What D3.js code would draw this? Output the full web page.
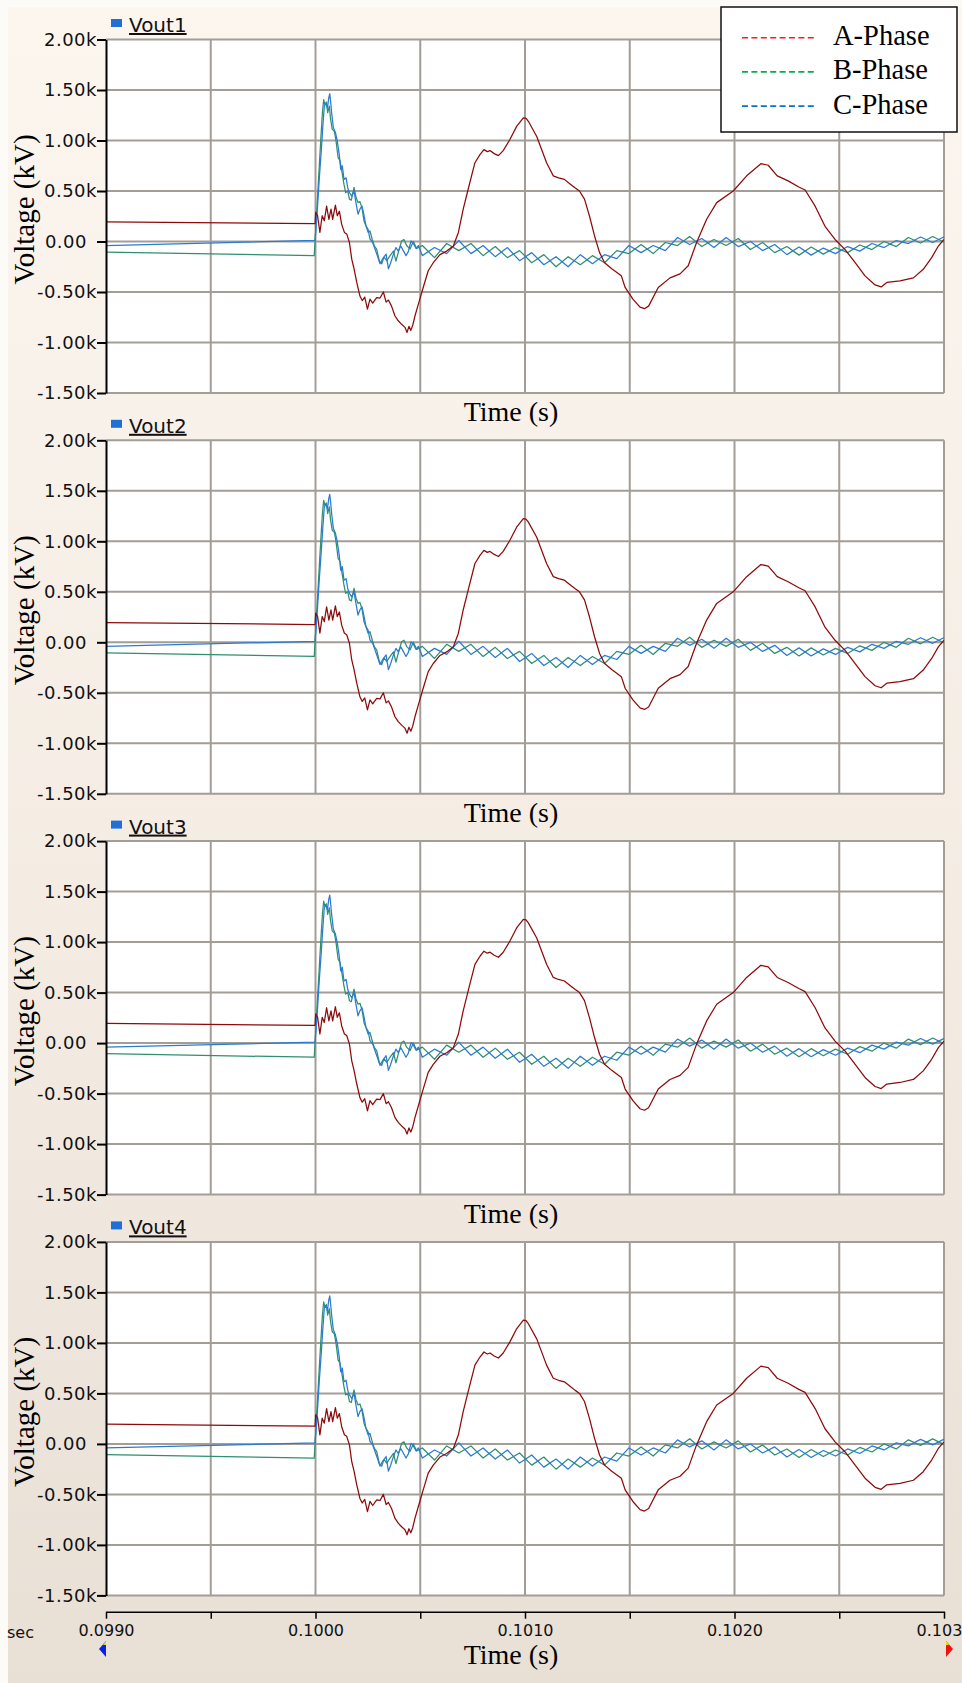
<!DOCTYPE html>
<html>
<head>
<meta charset="utf-8">
<script src="https://cdn.jsdelivr.net/npm/d3@7"></script>
<style>
  html, body { margin: 0; padding: 0; background: #fdfbf8; }
  svg { display: block; }
</style>
</head>
<body>
<svg id="chart" width="962" height="1683"></svg>
<script>
// ---------- data ----------
const panelNames = ["Vout1", "Vout2", "Vout3", "Vout4"];
const phaseNames = ["A-Phase", "B-Phase", "C-Phase"];

const yTickValues = [-1.5, -1.0, -0.5, 0, 0.5, 1.0, 1.5, 2.0];
const yTickLabels = ["-1.50k", "-1.00k", "-0.50k", "0.00", "0.50k", "1.00k", "1.50k", "2.00k"];

const xTickValues = [0.0990, 0.0995, 0.1000, 0.1005, 0.1010, 0.1015, 0.1020, 0.1025, 0.1030];
const xTickLabels = ["0.0990", "", "0.1000", "", "0.1010", "", "0.1020", "", "0.1030"];

// [time (s), voltage (kV)]
const phaseA = [
  [0.0990, 0.195], [0.099998, 0.176], [0.100001, 0.29], [0.100010, 0.255], [0.100021, 0.09],
  [0.100032, 0.255], [0.100042, 0.205], [0.100053, 0.35], [0.100064, 0.22], [0.100074, 0.32],
  [0.100082, 0.22], [0.100095, 0.36], [0.100104, 0.255], [0.100114, 0.30], [0.100125, 0.17],
  [0.100138, 0.09], [0.100149, 0.075], [0.100162, -0.01], [0.100173, -0.175], [0.100184, -0.27],
  [0.100197, -0.405], [0.100212, -0.54], [0.100223, -0.585], [0.100235, -0.55], [0.100248, -0.67],
  [0.100260, -0.57], [0.100273, -0.61], [0.100292, -0.555], [0.100308, -0.56], [0.100324, -0.50],
  [0.100337, -0.60], [0.100348, -0.58], [0.100363, -0.64], [0.100379, -0.735], [0.100395, -0.785],
  [0.100411, -0.82], [0.100427, -0.85], [0.100437, -0.90], [0.100446, -0.84], [0.100455, -0.88],
  [0.100464, -0.83], [0.100475, -0.735], [0.100491, -0.62], [0.100512, -0.47], [0.100538, -0.29],
  [0.100562, -0.21], [0.100594, -0.13], [0.100626, -0.095], [0.100658, -0.045], [0.100682, 0.09],
  [0.100705, 0.32], [0.100729, 0.52], [0.100761, 0.78], [0.100785, 0.86], [0.100804, 0.91],
  [0.100820, 0.89], [0.100833, 0.90], [0.100853, 0.87], [0.100873, 0.85], [0.100896, 0.90],
  [0.100928, 1.01], [0.100960, 1.14], [0.100992, 1.225], [0.101005, 1.22], [0.101016, 1.19],
  [0.101056, 1.04], [0.101103, 0.78], [0.101135, 0.65], [0.101160, 0.63], [0.101188, 0.615],
  [0.101215, 0.57], [0.101240, 0.53], [0.101260, 0.50], [0.101284, 0.42], [0.101308, 0.25],
  [0.101332, 0.055], [0.101356, -0.11], [0.101380, -0.21], [0.101414, -0.27], [0.101460, -0.34],
  [0.101478, -0.455], [0.101515, -0.57], [0.101549, -0.65], [0.101570, -0.665], [0.101590, -0.64],
  [0.101636, -0.455], [0.101692, -0.36], [0.101740, -0.32], [0.101779, -0.24], [0.101819, -0.01],
  [0.101867, 0.22], [0.101915, 0.385], [0.101994, 0.50], [0.102058, 0.65], [0.102126, 0.77],
  [0.102161, 0.755], [0.102204, 0.65], [0.102256, 0.60], [0.102307, 0.54], [0.102337, 0.51],
  [0.102385, 0.35], [0.102432, 0.15], [0.102480, 0.02], [0.102528, -0.08], [0.102576, -0.21],
  [0.102623, -0.34], [0.102671, -0.43], [0.102700, -0.45], [0.102727, -0.405], [0.102790, -0.39],
  [0.102854, -0.36], [0.102901, -0.275], [0.102941, -0.16], [0.102973, -0.045], [0.103000, 0.02]
];

const phaseB = [
  [0.0990, -0.105], [0.099994, -0.14], [0.100002, 0.155], [0.100010, 0.45], [0.100018, 0.745],
  [0.100026, 1.04], [0.100033, 1.275], [0.100039, 1.405], [0.100045, 1.355], [0.100052, 1.38],
  [0.100058, 1.275], [0.100066, 1.34], [0.100072, 1.21], [0.100080, 1.11], [0.100090, 1.09],
  [0.100098, 0.995], [0.100108, 0.83], [0.100117, 0.80], [0.100127, 0.68], [0.100136, 0.565],
  [0.100144, 0.485], [0.100154, 0.50], [0.100162, 0.42], [0.100171, 0.41], [0.100184, 0.535],
  [0.100193, 0.44], [0.100203, 0.385], [0.100212, 0.395], [0.100222, 0.33], [0.100232, 0.20],
  [0.100241, 0.155], [0.100251, 0.09], [0.100260, 0.105], [0.100271, 0.02], [0.100281, -0.045],
  [0.100292, -0.075], [0.100305, -0.195], [0.100316, -0.22], [0.100327, -0.155], [0.100340, -0.19],
  [0.100356, -0.14], [0.100372, -0.095], [0.100384, -0.195], [0.100397, -0.095], [0.100411, 0.005],
  [0.100422, 0.02], [0.100435, -0.04], [0.100451, -0.075], [0.100467, 0.0], [0.100483, -0.07],
  [0.100510, -0.04], [0.100568, -0.16], [0.100626, -0.02], [0.100684, -0.09], [0.100742, -0.02],
  [0.100800, -0.14], [0.100858, -0.05], [0.100916, -0.16], [0.100974, -0.09], [0.101032, -0.21],
  [0.101090, -0.13], [0.101148, -0.25], [0.101206, -0.15], [0.101264, -0.23], [0.101322, -0.14],
  [0.101380, -0.21], [0.101438, -0.09], [0.101496, -0.12], [0.101554, -0.03], [0.101612, -0.12],
  [0.101670, -0.01], [0.101728, -0.04], [0.101786, 0.05], [0.101844, -0.05], [0.101902, 0.02],
  [0.101960, -0.04], [0.102018, 0.03], [0.102076, -0.08], [0.102134, -0.01], [0.102192, -0.11],
  [0.102250, -0.05], [0.102308, -0.135], [0.102366, -0.055], [0.102424, -0.125], [0.102482, -0.06],
  [0.102540, -0.11], [0.102598, -0.035], [0.102656, -0.08], [0.102714, 0.0], [0.102772, -0.05],
  [0.102830, 0.04], [0.102888, -0.015], [0.102946, 0.05], [0.103004, -0.01]
];

const phaseC = [
  [0.0990, -0.04], [0.099998, 0.01], [0.100009, 0.32], [0.100018, 0.62], [0.100028, 0.915],
  [0.100034, 1.11], [0.100042, 1.34], [0.100050, 1.37], [0.100057, 1.32], [0.100063, 1.42],
  [0.100068, 1.465], [0.100072, 1.39], [0.100077, 1.275], [0.100085, 1.13], [0.100095, 1.08],
  [0.100104, 0.995], [0.100114, 0.85], [0.100120, 0.715], [0.100128, 0.75], [0.100136, 0.615],
  [0.100146, 0.63], [0.100154, 0.53], [0.100162, 0.485], [0.100173, 0.45], [0.100184, 0.50],
  [0.100193, 0.385], [0.100203, 0.27], [0.100212, 0.32], [0.100222, 0.35], [0.100232, 0.255],
  [0.100241, 0.155], [0.100251, 0.12], [0.100260, 0.025], [0.100273, -0.01], [0.100284, -0.075],
  [0.100295, -0.14], [0.100308, -0.22], [0.100321, -0.17], [0.100337, -0.125], [0.100348, -0.27],
  [0.100359, -0.21], [0.100372, -0.125], [0.100384, -0.06], [0.100395, -0.095], [0.100407, -0.045],
  [0.100419, -0.09], [0.100432, -0.14], [0.100443, -0.10], [0.100456, 0.005], [0.100467, -0.02],
  [0.100480, -0.07], [0.100491, -0.04],
  [0.100510, -0.14], [0.100568, -0.06], [0.100626, -0.12], [0.100684, 0.01], [0.100742, -0.12],
  [0.100800, -0.04], [0.100858, -0.15], [0.100916, -0.06], [0.100974, -0.19], [0.101032, -0.11],
  [0.101090, -0.23], [0.101148, -0.15], [0.101206, -0.25], [0.101264, -0.13], [0.101322, -0.22],
  [0.101380, -0.13], [0.101438, -0.17], [0.101496, -0.04], [0.101554, -0.11], [0.101612, -0.04],
  [0.101670, -0.09], [0.101728, 0.04], [0.101786, -0.03], [0.101844, 0.03], [0.101902, -0.06],
  [0.101960, 0.04], [0.102018, -0.05], [0.102076, 0.0], [0.102134, -0.09], [0.102192, -0.03],
  [0.102250, -0.13], [0.102308, -0.055], [0.102366, -0.135], [0.102424, -0.065], [0.102482, -0.12],
  [0.102540, -0.05], [0.102598, -0.095], [0.102656, -0.02], [0.102714, -0.06], [0.102772, 0.01],
  [0.102830, -0.02], [0.102888, 0.045], [0.102946, -0.01], [0.103004, 0.05]
];

// ---------- layout ----------
const W = 962, H = 1683;
const plotLeft = 106, plotRight = 944;
const panelTop0 = 39.5, panelStep = 400.8, panelH = 353.5;
const xAxisY = 1611.7;

const traceColors = ["#8e0a0a", "#2f8f70", "#2a7bd3"];   // drawn traces
const legendColors = ["#ff1a1a", "#00b050", "#0a72c8"];  // legend swatches
const serif = "'Liberation Serif', 'Times New Roman', serif";
const sans = "'DejaVu Sans', Verdana, sans-serif";

const svg = d3.select("#chart");
const defs = svg.append("defs");

// background: soft beige frame darkening towards the bottom
const grad = defs.append("linearGradient").attr("id", "bg").attr("x1", 0).attr("y1", 0).attr("x2", 0).attr("y2", 1);
grad.append("stop").attr("offset", "0%").attr("stop-color", "#fcf6ef");
grad.append("stop").attr("offset", "55%").attr("stop-color", "#f4ece3");
grad.append("stop").attr("offset", "100%").attr("stop-color", "#e8dfd5");
svg.append("rect").attr("x", 0).attr("y", 0).attr("width", W).attr("height", H).attr("fill", "#fdfbf8");
svg.append("rect").attr("x", 8).attr("y", 7).attr("width", W - 8).attr("height", H - 7).attr("fill", "url(#bg)");

const x = d3.scaleLinear().domain([xTickValues[0], xTickValues[xTickValues.length - 1]]).range([plotLeft, plotRight]);

const series = [phaseA, phaseB, phaseC];
const drawOrder = [1, 2, 0];

panelNames.forEach((name, i) => {
  const top = panelTop0 + i * panelStep;
  const y = d3.scaleLinear().domain([yTickValues[0], yTickValues[yTickValues.length - 1]]).range([top + panelH, top]);
  const g = svg.append("g");

  // plot area
  g.append("rect").attr("x", plotLeft).attr("y", top).attr("width", plotRight - plotLeft).attr("height", panelH).attr("fill", "#ffffff");

  // grid
  g.append("g").selectAll("line").data(yTickValues).join("line")
    .attr("x1", plotLeft).attr("x2", plotRight)
    .attr("y1", d => y(d)).attr("y2", d => y(d))
    .attr("stroke", "#a39d97").attr("stroke-width", 2);
  g.append("g").selectAll("line").data(xTickValues.slice(1)).join("line")
    .attr("x1", d => x(d)).attr("x2", d => x(d))
    .attr("y1", top).attr("y2", top + panelH)
    .attr("stroke", "#a39d97").attr("stroke-width", 2);

  // traces
  const clipId = "clip" + i;
  defs.append("clipPath").attr("id", clipId).append("rect")
    .attr("x", plotLeft).attr("y", top).attr("width", plotRight - plotLeft).attr("height", panelH);
  const line = d3.line().x(d => x(d[0])).y(d => y(d[1]));
  const traces = g.append("g").attr("clip-path", `url(#${clipId})`);
  drawOrder.forEach(k => {
    traces.append("path").datum(series[k])
      .attr("d", line).attr("fill", "none")
      .attr("stroke", traceColors[k]).attr("stroke-width", 1.25)
      .attr("stroke-linejoin", "round");
  });

  // y axis
  const yAxis = d3.axisLeft(y).tickValues(yTickValues)
    .tickFormat((d, j) => yTickLabels[j]).tickSize(9).tickSizeOuter(0).tickPadding(1);
  const ya = g.append("g").attr("transform", `translate(${plotLeft},0)`).call(yAxis);
  ya.select(".domain").attr("stroke", "#000").attr("stroke-width", 2);
  ya.selectAll(".tick line").attr("stroke", "#000").attr("stroke-width", 2);
  ya.selectAll(".tick text")
    .attr("font-family", sans).attr("font-size", 18).attr("letter-spacing", 0.5)
    .attr("fill", "#111")
    .attr("x", d => d === 0 ? -19 : -9);

  // panel heading
  g.append("rect").attr("x", 111).attr("y", top - 20.5).attr("width", 11).attr("height", 8).attr("fill", "#1f6fd6");
  g.append("text").attr("x", 129).attr("y", top - 7.5)
    .attr("font-family", sans).attr("font-size", 20).attr("fill", "#111")
    .attr("text-decoration", "underline").text(name);

  // axis titles
  g.append("text")
    .attr("transform", `translate(34,${top + 170}) rotate(-90)`)
    .attr("text-anchor", "middle").attr("font-family", serif).attr("font-size", 29).attr("fill", "#000")
    .text("Voltage (kV)");
  if (i < panelNames.length - 1) {
    g.append("text").attr("x", 511).attr("y", top + panelH + 28)
      .attr("text-anchor", "middle").attr("font-family", serif).attr("font-size", 28).attr("fill", "#000")
      .text("Time (s)");
  }
});

// shared time axis
const xAxis = d3.axisBottom(x).tickValues(xTickValues)
  .tickFormat((d, j) => xTickLabels[j]).tickSize(7).tickSizeOuter(0).tickPadding(6);
const xa = svg.append("g").attr("transform", `translate(0,${xAxisY})`).call(xAxis);
xa.select(".domain").attr("stroke", "#000").attr("stroke-width", 1.5);
xa.selectAll(".tick line").attr("stroke", "#000").attr("stroke-width", 1.5);
xa.selectAll(".tick text").attr("font-family", sans).attr("font-size", 16).attr("fill", "#111");

svg.append("text").attr("x", 34).attr("y", xAxisY + 26).attr("text-anchor", "end")
  .attr("font-family", sans).attr("font-size", 16).attr("fill", "#111").text("sec");
svg.append("text").attr("x", 511).attr("y", 1664).attr("text-anchor", "middle")
  .attr("font-family", serif).attr("font-size", 28).attr("fill", "#000").text("Time (s)");

// range markers at both ends of the time axis
svg.append("path").attr("d", `M${plotLeft - 7},1649 L${plotLeft},1641 L${plotLeft},1657 Z`).attr("fill", "#0b1fe0");
svg.append("path").attr("d", `M${plotLeft - 3},1645 L${plotLeft},1641 L${plotLeft},1645 Z`).attr("fill", "#f2e200");
svg.append("path").attr("d", `M${plotRight + 2},1641 L${plotRight + 9},1649 L${plotRight + 2},1657 Z`).attr("fill", "#f01010");
svg.append("path").attr("d", `M${plotRight + 2},1641 L${plotRight + 5},1645 L${plotRight + 2},1645 Z`).attr("fill", "#f2e200");

// legend
const lg = svg.append("g");
lg.append("rect").attr("x", 721).attr("y", 7).attr("width", 236).attr("height", 125)
  .attr("fill", "#ffffff").attr("stroke", "#111").attr("stroke-width", 1.5);
phaseNames.forEach((nm, k) => {
  const cy = 37.7 + k * 34.2;
  lg.append("line").attr("x1", 742).attr("x2", 817).attr("y1", cy).attr("y2", cy)
    .attr("stroke", legendColors[k]).attr("stroke-width", 1.6).attr("stroke-dasharray", "6,3.4");
  lg.append("text").attr("x", 833).attr("y", cy + 7.5)
    .attr("font-family", serif).attr("font-size", 28.5).attr("fill", "#000").text(nm);
});
</script>
</body>
</html>
